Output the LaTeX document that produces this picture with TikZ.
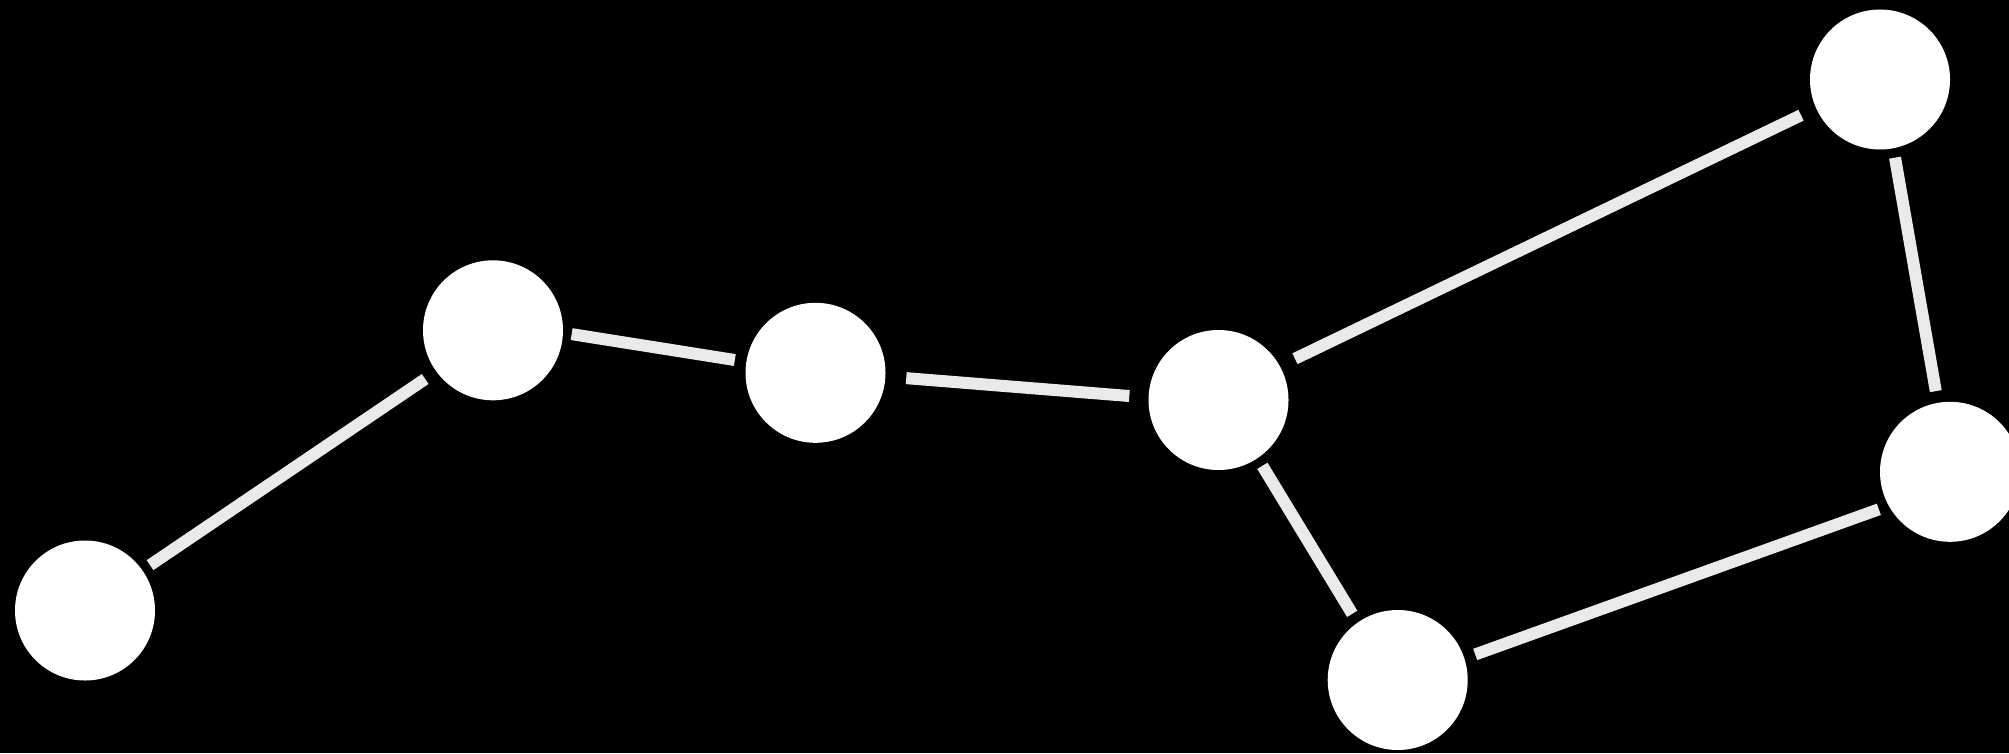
\documentclass[tikz,border=0pt]{standalone}
\definecolor{edgegrey}{RGB}{234,234,234}
\begin{document}
\begin{tikzpicture}[x=1pt,y=-1pt,
  star/.style={circle,fill=white,inner sep=0pt,minimum size=140pt,outer sep=0pt},
  link/.style={draw=edgegrey,line width=12pt}]
\clip (0,0) rectangle (2009,753);
\useasboundingbox (0,0) rectangle (2009,753);
\fill[black] (0,0) rectangle (2009,753);
\node[star] (n1) at (85,610.5) {};
\node[star] (n2) at (493,330.3) {};
\node[star] (n3) at (815.5,372.8) {};
\node[star] (n4) at (1218.5,400) {};
\node[star] (n5) at (1397.7,680) {};
\node[star] (n6) at (1950,471.8) {};
\node[star] (n7) at (1880,79.5) {};
\draw[link,shorten <=9.3pt,shorten >=13.5pt] (n1.35.9) -- (n2.-144.6);
\draw[link,shorten <=8.8pt,shorten >=11.7pt] (n2.-2.2) -- (n3.171.6);
\draw[link,shorten <=20.9pt,shorten >=19.3pt] (n3.-3.6) -- (n4.178.2);
\draw[link,shorten <=16.9pt,shorten >=16.7pt] (n4.29.5) -- (n7.-156.8);
\draw[link,shorten <=9.6pt,shorten >=11.9pt] (n7.-79.7) -- (n6.100.2);
\draw[link,shorten <=10.6pt,shorten >=11.6pt] (n6.-151.05) -- (n5.18.1);
\draw[link,shorten <=10.3pt,shorten >=9.1pt] (n5.125.0) -- (n4.-56.9);
\end{tikzpicture}
\end{document}
